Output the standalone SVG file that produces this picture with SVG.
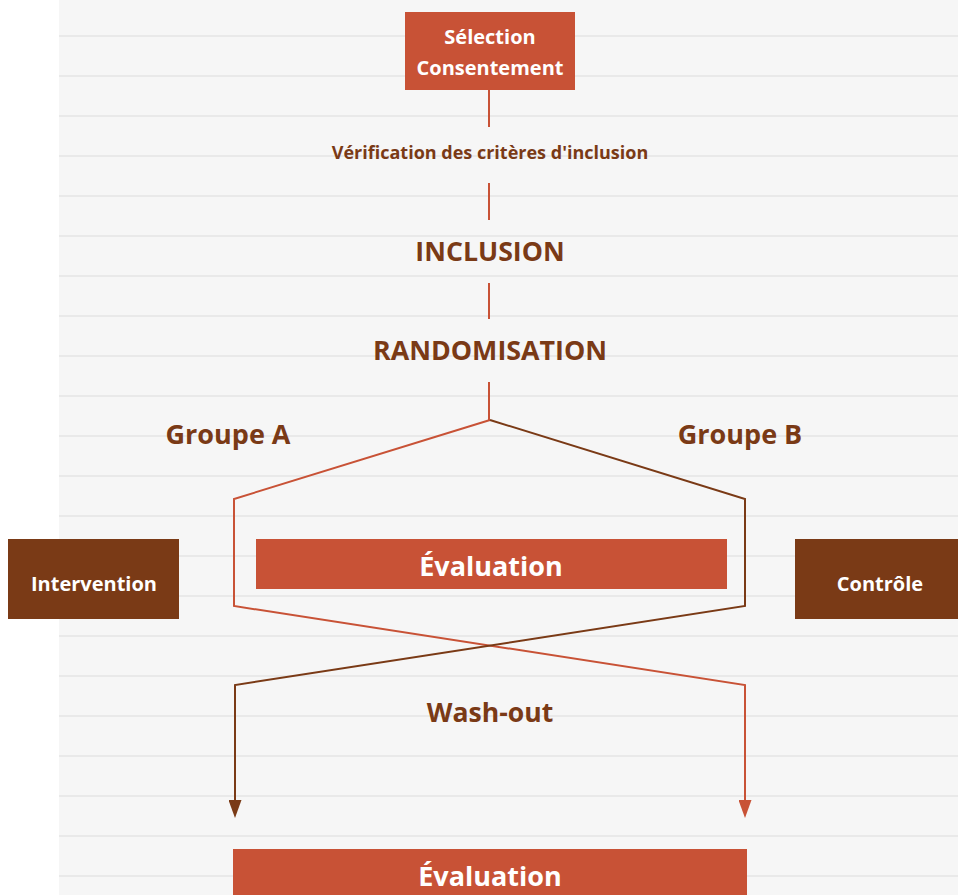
<svg xmlns="http://www.w3.org/2000/svg" width="958" height="895" viewBox="0 0 958 895">
  <style>
    .rule { stroke: #e5e5e5; stroke-width: 1.5; }
    .box-red { fill: #c85236; }
    .box-brown { fill: #7a3a16; }
    .wt { fill: #ffffff; font-family: "Open Sans", "Noto Sans", sans-serif; font-weight: bold; text-anchor: middle; }
    .bt { fill: #7a3a16; font-family: "Open Sans", "Noto Sans", sans-serif; font-weight: bold; text-anchor: middle; }
    .red { stroke: #c85236; stroke-width: 2; fill: none; }
    .brown { stroke: #7a3a16; stroke-width: 2; fill: none; }
  </style>
  <defs>
    <!-- arrowheads: tip sits 8 units beyond the path end -->
    <marker id="arrRed" viewBox="0 0 18 13" refX="10" refY="6.5" markerWidth="18" markerHeight="13" markerUnits="userSpaceOnUse" orient="auto">
      <path d="M0,0 L18,6.5 L0,13 Z" fill="#c85236"/>
    </marker>
    <marker id="arrBrown" viewBox="0 0 18 13" refX="10" refY="6.5" markerWidth="18" markerHeight="13" markerUnits="userSpaceOnUse" orient="auto">
      <path d="M0,0 L18,6.5 L0,13 Z" fill="#7a3a16"/>
    </marker>
  </defs>

  <!-- background: white margin with ruled grey sheet -->
  <rect x="0" y="0" width="958" height="895" fill="#ffffff"/>
  <rect x="59" y="0" width="899" height="895" fill="#f6f6f6"/>
  <g id="rules">
    <line class="rule" x1="59" y1="36" x2="958" y2="36"/>
    <line class="rule" x1="59" y1="76" x2="958" y2="76"/>
    <line class="rule" x1="59" y1="116" x2="958" y2="116"/>
    <line class="rule" x1="59" y1="156" x2="958" y2="156"/>
    <line class="rule" x1="59" y1="196" x2="958" y2="196"/>
    <line class="rule" x1="59" y1="236" x2="958" y2="236"/>
    <line class="rule" x1="59" y1="276" x2="958" y2="276"/>
    <line class="rule" x1="59" y1="316" x2="958" y2="316"/>
    <line class="rule" x1="59" y1="356" x2="958" y2="356"/>
    <line class="rule" x1="59" y1="396" x2="958" y2="396"/>
    <line class="rule" x1="59" y1="436" x2="958" y2="436"/>
    <line class="rule" x1="59" y1="476" x2="958" y2="476"/>
    <line class="rule" x1="59" y1="516" x2="958" y2="516"/>
    <line class="rule" x1="59" y1="556" x2="958" y2="556"/>
    <line class="rule" x1="59" y1="596" x2="958" y2="596"/>
    <line class="rule" x1="59" y1="636" x2="958" y2="636"/>
    <line class="rule" x1="59" y1="676" x2="958" y2="676"/>
    <line class="rule" x1="59" y1="716" x2="958" y2="716"/>
    <line class="rule" x1="59" y1="756" x2="958" y2="756"/>
    <line class="rule" x1="59" y1="796" x2="958" y2="796"/>
    <line class="rule" x1="59" y1="836" x2="958" y2="836"/>
    <line class="rule" x1="59" y1="876" x2="958" y2="876"/>
  </g>

  <!-- connectors -->
  <g id="connectors">
    <line class="red" x1="489" y1="90" x2="489" y2="127"/>
    <line class="red" x1="489" y1="183" x2="489" y2="220"/>
    <line class="red" x1="489" y1="283" x2="489" y2="319"/>
    <line class="red" x1="489" y1="382" x2="489" y2="420"/>
    <!-- group A path -->
    <polyline class="red" points="490,420 234,499 234,606 745,685 745,810" marker-end="url(#arrRed)"/>
    <!-- group B path -->
    <polyline class="brown" points="490,420 745,499 745,606 235,685 235,810" marker-end="url(#arrBrown)"/>
  </g>

  <g id="selection">
    <rect class="box-red" x="405" y="12" width="170" height="78"/>
    <text class="wt" x="490" y="44" font-size="20">Sélection</text>
    <text class="wt" x="490" y="75" font-size="20">Consentement</text>
  </g>

  <g id="verification">
    <text class="bt" x="490" y="159" font-size="18">Vérification des critères d'inclusion</text>
  </g>

  <g id="inclusion">
    <text class="bt" x="490" y="261" font-size="26.7">INCLUSION</text>
  </g>

  <g id="randomisation">
    <text class="bt" x="490" y="360" font-size="26.8">RANDOMISATION</text>
  </g>

  <g id="groupe-a">
    <text class="bt" x="228" y="444" font-size="27">Groupe A</text>
  </g>
  <g id="groupe-b">
    <text class="bt" x="740" y="444" font-size="27">Groupe B</text>
  </g>

  <g id="evaluation-1">
    <rect class="box-red" x="256" y="539" width="471" height="50"/>
    <text class="wt" x="491" y="576" font-size="27">Évaluation</text>
  </g>

  <g id="intervention">
    <rect class="box-brown" x="8" y="539" width="171" height="80"/>
    <text class="wt" x="94" y="591" font-size="20">Intervention</text>
  </g>

  <g id="controle">
    <rect class="box-brown" x="795" y="539" width="163" height="80"/>
    <text class="wt" x="880" y="591" font-size="20">Contrôle</text>
  </g>

  <g id="washout">
    <text class="bt" x="490" y="722" font-size="26.6">Wash-out</text>
  </g>

  <g id="evaluation-2">
    <rect class="box-red" x="233" y="849" width="514" height="46"/>
    <text class="wt" x="490" y="886" font-size="27">Évaluation</text>
  </g>
</svg>
